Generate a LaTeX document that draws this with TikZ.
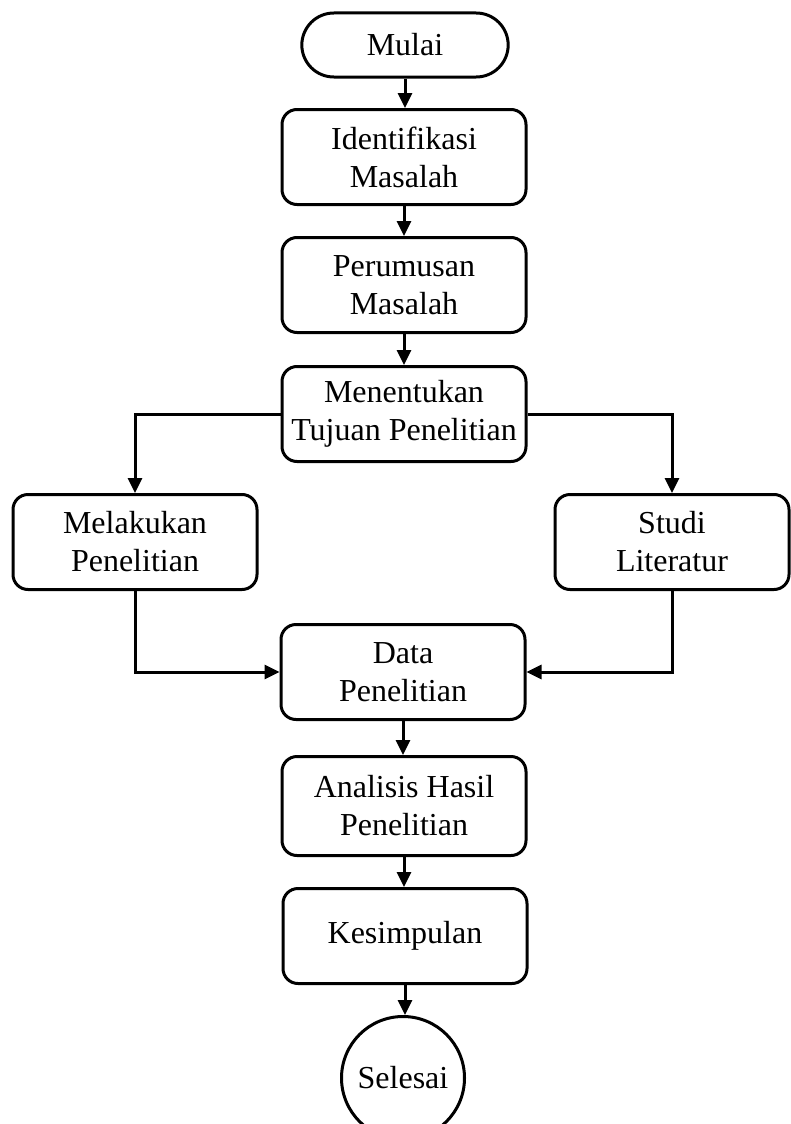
\documentclass[tikz,border=0pt]{standalone}
\usepackage{fontspec}
\setmainfont{Liberation Serif}
\usetikzlibrary{arrows.meta,shapes.misc}
\begin{document}
\begin{tikzpicture}[
		x=1pt, y=-1pt,
		line width=3pt,
		font=\fontsize{32}{38}\selectfont,
		proses/.style={draw, rounded corners=15pt, minimum width=244pt,
			minimum height=95pt, align=center, inner sep=0pt},
		mulai/.style={draw, rounded rectangle, minimum width=213pt, minimum height=64pt},
		selesai/.style={draw, circle, minimum size=123pt, inner sep=0pt},
		panah/.style={-{Triangle[length=15pt,width=14pt]}},
		]
		\useasboundingbox (0,0) rectangle (790,1124);
		\node[mulai] (mulai) at (405,45) {Mulai};
		\node[proses] (identifikasi) at (404,157) {Identifikasi\\Masalah};
		\node[proses] (perumusan) at (404,285) {Perumusan\\Masalah};
		\node[proses] (tujuan) at (404,414) {Menentukan\\Tujuan Penelitian};
		\node[proses] (melakukan) at (135,542) {Melakukan\\Penelitian};
		\node[proses, minimum width=234pt] (studi) at (672,542) {Studi\\Literatur};
		\node[proses] (data) at (403,672) {Data\\Penelitian};
		\node[proses, minimum height=99pt] (analisis) at (404,806) {Analisis Hasil\\Penelitian};
		\node[proses] (kesimpulan) at (405,936) {Kesimpulan};
		\node[selesai] (selesai) at (403,1078) {Selesai};
		% alur utama
		\draw[panah] (mulai.south) -- (mulai.south |- identifikasi.north);
		\draw[panah] (identifikasi.south) -- (identifikasi.south |- perumusan.north);
		\draw[panah] (perumusan.south) -- (perumusan.south |- tujuan.north);
		\draw[panah] (tujuan.west) -| (melakukan.north);
		\draw[panah] (tujuan.east) -| (studi.north);
		\draw[panah] (melakukan.south) |- (data.west);
		\draw[panah] (studi.south) |- (data.east);
		\draw[panah] (data.south) -- (data.south |- analisis.north);
		\draw[panah] (analisis.south) -- (analisis.south |- kesimpulan.north);
		\draw[panah] (kesimpulan.south) -- (kesimpulan.south |- selesai.north);
\end{tikzpicture}
\end{document}
